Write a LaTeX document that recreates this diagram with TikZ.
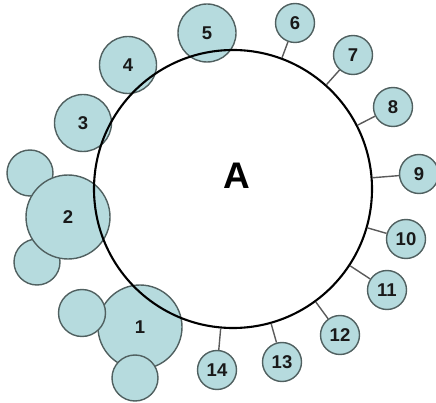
\documentclass[tikz,border=0pt]{standalone}
\usepackage{fontspec}
\setmainfont{Liberation Sans}
\definecolor{bubblefill}{RGB}{182,219,222}
\definecolor{ringgray}{RGB}{80,96,96}
\definecolor{linkgray}{RGB}{90,90,90}
\definecolor{inkdark}{RGB}{25,25,25}
\begin{document}
\begin{tikzpicture}[x=1pt,y=-1pt,
  bubble/.style={circle, draw=ringgray, fill=bubblefill, line width=1.4pt,
    inner sep=0pt, text=inkdark, font=\bfseries\fontsize{18.5}{21}\selectfont},
  satellite/.style={bubble, minimum size=39pt},
  link/.style={draw=linkgray, line width=1.4pt},
  hubring/.style={circle, draw=black, line width=2.1pt, inner sep=0pt, minimum size=278pt}
]
\useasboundingbox (0,0) rectangle (436,403);

% cluster around 2
\node[bubble, minimum size=46pt] (c2a) at (30,173) {};
\node[bubble, minimum size=46pt] (c2b) at (37,262) {};
\node[bubble, minimum size=84pt] (c2) at (68,217) {2};

% cluster around 1
\node[bubble, minimum size=84pt] (c1) at (140,327) {1};
\node[bubble, minimum size=47pt] (c1a) at (82,313) {};
\node[bubble, minimum size=46pt] (c1b) at (135,378) {};

% medium bubbles on the rim
\node[bubble, minimum size=57pt] (c3) at (83,123) {3};
\node[bubble, minimum size=57pt] (c4) at (128,65) {4};
\node[bubble, minimum size=58pt] (c5) at (207,33) {5};

% main circle and its label
\node[hubring] (hub) at (233,189) {};
\node[font=\bfseries\fontsize{37}{40}\selectfont, text=black] (A) at (237,176) {A};

% satellites linked to the main circle
\node[satellite] (s6) at (295,23) {6};
\node[satellite] (s7) at (353,55) {7};
\node[satellite] (s8) at (393,107) {8};
\node[satellite] (s9) at (419,174) {9};
\node[satellite] (s10) at (406,239) {10};
\node[satellite] (s11) at (387,290) {11};
\node[satellite] (s12) at (340,335) {12};
\node[satellite] (s13) at (282,362) {13};
\node[satellite] (s14) at (217,370) {14};

\foreach \s in {s6,s7,s8,s9,s10,s11,s12,s13,s14}
  \draw[link] (\s) -- (hub);
\end{tikzpicture}
\end{document}
